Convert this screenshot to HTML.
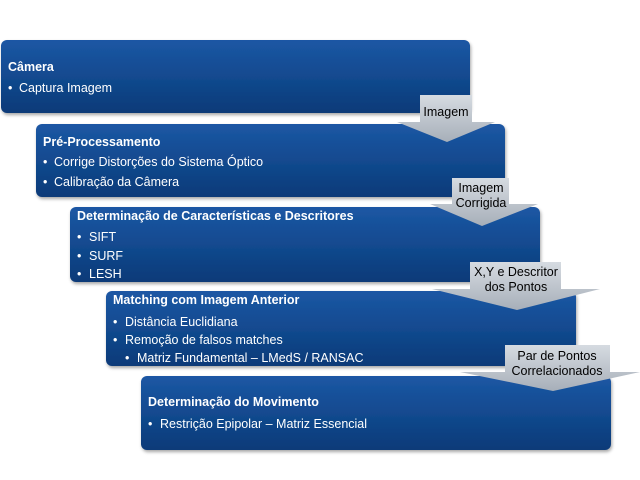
<!DOCTYPE html>
<html><head><meta charset="utf-8"><style>
html,body{margin:0;padding:0;background:#fff;width:640px;height:480px;overflow:hidden}
svg text{font-family:"Liberation Sans",sans-serif;fill:#fff}
.t{font-weight:bold;font-size:12.5px}
.b{font-size:12.5px}
.a{fill:#000;font-size:12.5px}
</style></head><body>
<svg width="640" height="480" viewBox="0 0 640 480" xmlns="http://www.w3.org/2000/svg">
<defs>
<linearGradient id="bg" x1="0" y1="0" x2="0" y2="1">
<stop offset="0" stop-color="#1c57a4"/><stop offset="0.5" stop-color="#124a8f"/><stop offset="1" stop-color="#0b3a78"/>
</linearGradient>
<linearGradient id="ag" x1="0" y1="0" x2="0" y2="1">
<stop offset="0" stop-color="#d6dbe1"/><stop offset="1" stop-color="#a7afb9"/>
</linearGradient>
<filter id="sh" x="-5%" y="-10%" width="110%" height="130%"><feDropShadow dx="1" dy="2" stdDeviation="1.5" flood-opacity="0.35"/></filter>
</defs>
<g filter="url(#sh)">
<rect x="1" y="40" width="469" height="73" rx="6" fill="url(#bg)"/>
<rect x="36" y="124" width="469" height="73" rx="6" fill="url(#bg)"/>
<rect x="70" y="207" width="470" height="75" rx="6" fill="url(#bg)"/>
<rect x="106" y="291" width="470" height="75" rx="6" fill="url(#bg)"/>
<rect x="141" y="376" width="470" height="74" rx="6" fill="url(#bg)"/>
</g>
<path d="M420,95 H472 V122 H495 L447,142 L397,122 H420 Z" fill="url(#ag)"/>
<path d="M452,178 H509 V204 H538 L482,226 L430,204 H452 Z" fill="url(#ag)"/>
<path d="M470,262 H561 V289 H600 L517,310 L432,289 H470 Z" fill="url(#ag)"/>
<path d="M505,345 H610 V372 H640 L553,391 L460,372 H505 Z" fill="url(#ag)"/>
<text class="a" x="446" y="116" text-anchor="middle">Imagem</text>
<text class="a" x="481" y="192" text-anchor="middle">Imagem</text>
<text class="a" x="481" y="207" text-anchor="middle">Corrigida</text>
<text class="a" x="516" y="276" text-anchor="middle">X,Y e Descritor</text>
<text class="a" x="516" y="291" text-anchor="middle">dos Pontos</text>
<text class="a" x="557" y="360" text-anchor="middle">Par de Pontos</text>
<text class="a" x="557" y="375" text-anchor="middle">Correlacionados</text>
<text class="t" x="8" y="71">Câmera</text>
<text class="b" x="8" y="92">•</text><text class="b" x="19" y="92">Captura Imagem</text>
<text class="t" x="43" y="146">Pré-Processamento</text>
<text class="b" x="43" y="166">•</text><text class="b" x="54" y="166">Corrige Distorções do Sistema Óptico</text>
<text class="b" x="43" y="186">•</text><text class="b" x="54" y="186">Calibração da Câmera</text>
<text class="t" x="77" y="220">Determinação de Características e Descritores</text>
<text class="b" x="77" y="241">•</text><text class="b" x="89" y="241">SIFT</text>
<text class="b" x="77" y="260">•</text><text class="b" x="89" y="260">SURF</text>
<text class="b" x="77" y="278">•</text><text class="b" x="89" y="278">LESH</text>
<text class="t" x="113" y="304">Matching com Imagem Anterior</text>
<text class="b" x="113" y="326">•</text><text class="b" x="125" y="326">Distância Euclidiana</text>
<text class="b" x="113" y="344">•</text><text class="b" x="125" y="344">Remoção de falsos matches</text>
<text class="b" x="125" y="362">•</text><text class="b" x="137" y="362">Matriz Fundamental – LMedS / RANSAC</text>
<text class="t" x="148" y="406">Determinação do Movimento</text>
<text class="b" x="148" y="428">•</text><text class="b" x="160" y="428">Restrição Epipolar – Matriz Essencial</text>
</svg>
</body></html>
